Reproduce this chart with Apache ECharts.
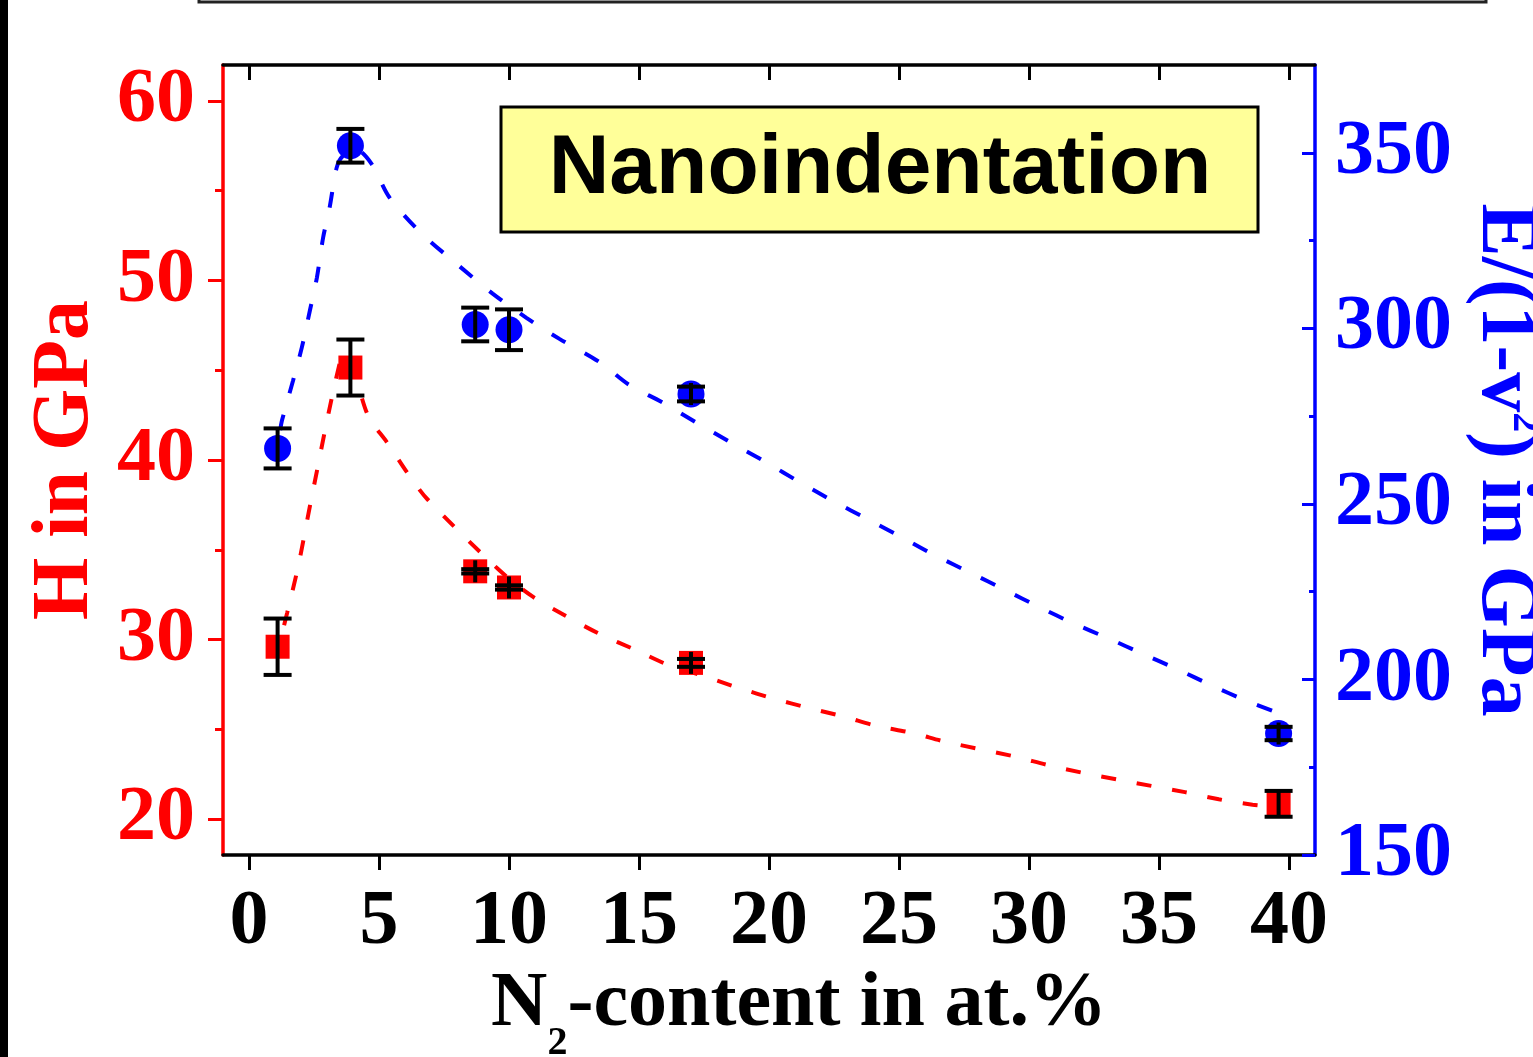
<!DOCTYPE html>
<html>
<head>
<meta charset="utf-8">
<script src="https://cdn.jsdelivr.net/npm/echarts@6/dist/echarts.min.js"></script>
<style>
  html, body { margin: 0; padding: 0; background: #fff; }
  #chart { width: 1533px; height: 1057px; }
</style>
</head>
<body>
<div id="chart"></div>
<script>
// measured points: N2 content (at.%), hardness H (GPa), reduced modulus E/(1-v^2) (GPa)
const nContent = [1.1, 3.9, 8.7, 10.0, 17.0, 39.6];
const hardness = [29.6, 45.15, 33.8, 32.9, 28.7, 20.85];
const hardnessErr = [1.57, 1.56, 0.12, 0.12, 0.22, 0.72];
const modulus = [265.8, 352.0, 301.1, 299.6, 281.3, 184.6];
const modulusErr = [5.7, 4.8, 4.8, 5.8, 2.1, 1.9];

// dashed guide curves
const fitX_H = [1.35, 1.47, 1.91, 2.42, 3.49, 3.75, 4.1, 4.6, 5.3, 6.18, 6.87, 9.6, 10.9, 12.2, 13.5, 14.9, 16.1, 17.5, 18.85,
  20.2, 21.5, 22.9, 24.1, 25.5, 26.8, 29.4, 30.75, 32.0, 33.4, 34.7, 36.0, 37.3, 38.6, 39.3];
const fitH = [30.8, 31.5, 34.2, 38.0, 45.4, 45.8, 44.6, 42.4, 41.0, 39.1, 37.8, 33.9, 32.4, 31.3, 30.3, 29.4, 28.6, 27.96, 27.3,
  26.7, 26.2, 25.7, 25.2, 24.8, 24.3, 23.5, 23.0, 22.6, 22.2, 21.85, 21.5, 21.1, 20.8, 20.7];

const fitX_E = [1.2, 1.27, 1.69, 2.03, 2.34, 2.61, 2.85, 3.1, 3.37, 3.6, 4.1, 4.7, 5.41, 6.64, 7.98, 9.37, 10.67, 11.94, 13.5,
  14.6, 15.9, 17.2, 18.6, 19.9, 21.2, 22.5, 23.8, 25.1, 26.4, 27.8, 29.1, 30.4, 31.7, 33.05, 34.4, 35.7, 37.0, 38.3, 39.6];
const fitE = [271.0, 273.8, 285, 294.5, 305, 314.4, 325.8, 334.4, 345.7, 349, 351, 347, 337.2, 327, 318.4, 309.9, 303, 297, 290.3,
  284, 278.9, 273.2, 267.2, 261.8, 256.1, 250.7, 245.6, 240.5, 235.3, 230.2, 225.4, 220.6, 216, 211.7, 207.2, 202.9, 198.4, 194.1, 190.4];

const xTicks = [0, 5, 10, 15, 20, 25, 30, 35, 40];
const hTicks = [20, 30, 40, 50, 60];
const hMinorTicks = [25, 35, 45, 55];
const eTicks = [150, 200, 250, 300, 350];
const eMinorTicks = [175, 225, 275, 325];

const serif = "'Liberation Serif', 'Times New Roman', serif";
const RED = '#ff0000';
const BLUE = '#0000ff';

let chart = echarts.init(document.getElementById('chart'));

function pairs(xs, ys) {
    return xs.map(function (x, i) { return [x, ys[i]]; });
}

function errorBar(params, api) {
    let x = api.value(0), y = api.value(1), e = api.value(2);
    let c = api.coord([x, y]);
    let hi = api.coord([x, y + e]);
    let lo = api.coord([x, y - e]);
    let cap = 14;
    let stem = Math.max(lo[1] - c[1], 11);
    return {
        type: 'group',
        children: [
            { type: 'line', shape: { x1: c[0], y1: c[1] - stem, x2: c[0], y2: c[1] + stem }, style: { stroke: '#000', lineWidth: 4 } },
            { type: 'line', shape: { x1: c[0] - cap, y1: hi[1], x2: c[0] + cap, y2: hi[1] }, style: { stroke: '#000', lineWidth: 4 } },
            { type: 'line', shape: { x1: c[0] - cap, y1: lo[1], x2: c[0] + cap, y2: lo[1] }, style: { stroke: '#000', lineWidth: 4 } }
        ]
    };
}

let labelFont = { fontFamily: serif, fontWeight: 'bold', fontSize: 78 };

let option = {
    animation: false,
    backgroundColor: '#fff',
    grid: {
        left: 223, right: 218, top: 65, bottom: 202,
        containLabel: false,
        outerBoundsMode: 'none'
    },
    xAxis: [
        {
            type: 'value', position: 'bottom', min: -1, max: 41,
            axisLine: { onZero: false, lineStyle: { color: '#000', width: 3.5 } },
            axisTick: { customValues: xTicks, length: 15, lineStyle: { color: '#000', width: 3 } },
            axisLabel: Object.assign({ customValues: xTicks, color: '#000', margin: 29 }, labelFont),
            splitLine: { show: false },
            name: '{n|N}{s|2}{n|-content in at.%}',
            nameLocation: 'middle',
            nameGap: 111,
            nameMoveOverlap: false,
            nameTextStyle: {
                padding: [0, 0, 0, 60],
                rich: {
                    n: { fontFamily: serif, fontWeight: 'bold', fontSize: 78, lineHeight: 80, color: '#000', verticalAlign: 'top' },
                    s: { fontFamily: serif, fontWeight: 'bold', fontSize: 40, lineHeight: 98, color: '#000', verticalAlign: 'bottom' }
                }
            }
        },
        {
            type: 'value', position: 'top', min: -1, max: 41,
            axisLine: { onZero: false, lineStyle: { color: '#000', width: 3.5 } },
            axisTick: { inside: true, customValues: xTicks, length: 15, lineStyle: { color: '#000', width: 3 } },
            axisLabel: { show: false },
            splitLine: { show: false }
        }
    ],
    yAxis: [
        {
            type: 'value', position: 'left', min: 18, max: 62,
            axisLine: { show: true, onZero: false, lineStyle: { color: RED, width: 3.5 } },
            axisTick: { show: true, customValues: hTicks, length: 15, lineStyle: { color: RED, width: 3 } },
            axisLabel: Object.assign({ customValues: hTicks, color: RED, margin: 28 }, labelFont),
            splitLine: { show: false },
            name: 'H in GPa',
            nameLocation: 'middle',
            nameRotate: 90,
            nameGap: 117,
            nameMoveOverlap: false,
            nameTextStyle: { color: RED, fontFamily: serif, fontWeight: 'bold', fontSize: 80 }
        },
        {
            type: 'value', position: 'right', min: 150, max: 375,
            axisLine: { show: true, onZero: false, lineStyle: { color: BLUE, width: 3.5 } },
            axisTick: { show: true, inside: true, customValues: eTicks, length: 13, lineStyle: { color: BLUE, width: 3 } },
            axisLabel: Object.assign({ customValues: eTicks, color: BLUE, margin: 20 }, labelFont),
            splitLine: { show: false },
            name: '{t|E/(1-v}{p|2}{t|) in GPa}',
            nameLocation: 'middle',
            nameRotate: -90,
            nameGap: 149,
            nameMoveOverlap: false,
            nameTextStyle: {
                rich: {
                    t: { fontFamily: serif, fontWeight: 'bold', fontSize: 80, lineHeight: 80, color: BLUE, verticalAlign: 'top' },
                    p: { fontFamily: serif, fontWeight: 'bold', fontSize: 40, lineHeight: 44, color: BLUE, verticalAlign: 'top' }
                }
            }
        },
        {
            // minor ticks, left
            type: 'value', position: 'left', min: 18, max: 62,
            axisLine: { show: false, onZero: false },
            axisTick: { show: true, customValues: hMinorTicks, length: 8, lineStyle: { color: RED, width: 3 } },
            axisLabel: { show: false },
            splitLine: { show: false }
        },
        {
            // minor ticks, right
            type: 'value', position: 'right', min: 150, max: 375,
            axisLine: { show: false, onZero: false },
            axisTick: { show: true, inside: true, customValues: eMinorTicks, length: 6, lineStyle: { color: BLUE, width: 3 } },
            axisLabel: { show: false },
            splitLine: { show: false }
        }
    ],
    graphic: [
        { type: 'rect', shape: { x: 0, y: 0, width: 8, height: 1057 }, style: { fill: '#000' }, z: 100 },
        { type: 'rect', shape: { x: 199, y: -20, width: 1287, height: 22 }, style: { fill: 'none', stroke: '#222', lineWidth: 3 }, z: 100 },
        {
            type: 'rect', shape: { x: 501, y: 107, width: 757, height: 125 },
            style: { fill: '#ffff99', stroke: '#000', lineWidth: 3 }, z: 100
        },
        {
            type: 'text', x: 880, y: 170, z: 101,
            style: {
                text: 'Nanoindentation', fill: '#000',
                font: "bold 84px 'Liberation Sans', Arial, sans-serif",
                textAlign: 'center', textVerticalAlign: 'middle'
            }
        }
    ],
    series: [
        {
            name: 'H fit', type: 'line', xAxisIndex: 0, yAxisIndex: 0,
            data: pairs(fitX_H, fitH), showSymbol: false, smooth: 0.3, z: 2,
            lineStyle: { color: RED, width: 4, type: [15, 21] }
        },
        {
            name: 'E fit', type: 'line', xAxisIndex: 0, yAxisIndex: 1,
            data: pairs(fitX_E, fitE), showSymbol: false, smooth: 0.3, z: 2,
            lineStyle: { color: BLUE, width: 4, type: [16, 22] }
        },
        {
            name: 'H', type: 'scatter', xAxisIndex: 0, yAxisIndex: 0,
            data: pairs(nContent, hardness), symbol: 'rect', symbolSize: 24, z: 3,
            itemStyle: { color: RED, opacity: 1 }
        },
        {
            name: 'E', type: 'scatter', xAxisIndex: 0, yAxisIndex: 1,
            data: pairs(nContent, modulus), symbol: 'circle', symbolSize: 27, z: 3,
            itemStyle: { color: BLUE, opacity: 1 }
        },
        {
            name: 'H err', type: 'custom', xAxisIndex: 0, yAxisIndex: 0, z: 4,
            renderItem: errorBar,
            encode: { x: 0, y: 1 },
            data: nContent.map(function (x, i) { return [x, hardness[i], hardnessErr[i]]; })
        },
        {
            name: 'E err', type: 'custom', xAxisIndex: 0, yAxisIndex: 1, z: 4,
            renderItem: errorBar,
            encode: { x: 0, y: 1 },
            data: nContent.map(function (x, i) { return [x, modulus[i], modulusErr[i]]; })
        }
    ]
};

chart.setOption(option);
</script>
</body>
</html>
